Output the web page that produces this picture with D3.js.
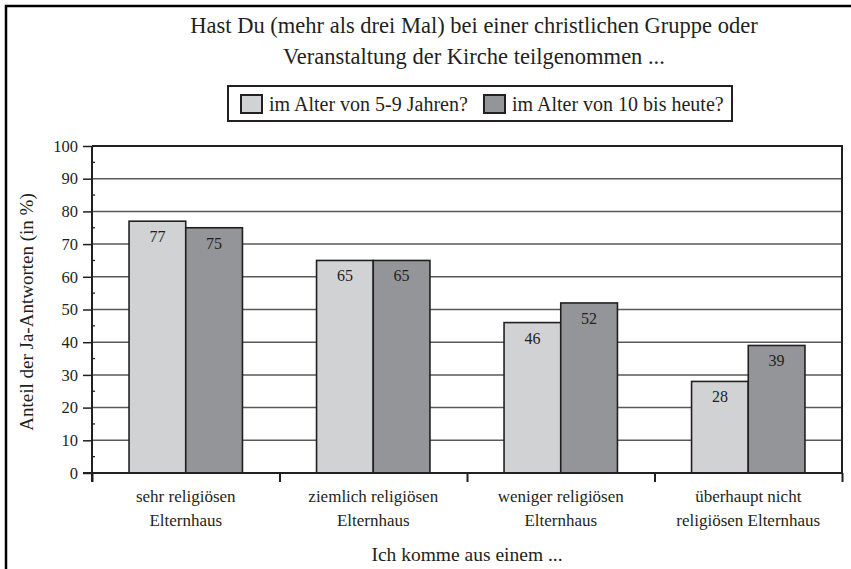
<!DOCTYPE html>
<html>
<head>
<meta charset="utf-8">
<script src="https://cdn.jsdelivr.net/npm/d3@7/dist/d3.min.js"></script>
<style>
  html, body { margin: 0; padding: 0; background: #fff; }
  svg { display: block; }
  text { font-family: "Liberation Serif", "DejaVu Serif", serif; fill: #231f20; }
</style>
</head>
<body>
<svg id="chart" width="851" height="569"></svg>
<script>
// ---- Data ----
const categories = [
  ["sehr religiösen", "Elternhaus"],
  ["ziemlich religiösen", "Elternhaus"],
  ["weniger religiösen", "Elternhaus"],
  ["überhaupt nicht", "religiösen Elternhaus"]
];
const seriesNames = ["im Alter von 5-9 Jahren?", "im Alter von 10 bis heute?"];
const series1 = [77, 65, 46, 28];
const series2 = [75, 65, 52, 39];
const yTicks = [0, 10, 20, 30, 40, 50, 60, 70, 80, 90, 100];
const titleLines = ["Hast Du (mehr als drei Mal) bei einer christlichen Gruppe oder",
                    "Veranstaltung der Kirche teilgenommen ..."];
const yTitle = "Anteil der Ja-Antworten (in %)";
const xTitle = "Ich komme aus einem ...";

// ---- Layout ----
const ink = "#231f20";
const colors = ["#d1d2d4", "#939598"];
const plot = { left: 92, right: 842, top: 146, bottom: 473 };

const svg = d3.select("#chart");

// outer frame (open to right/bottom edges)
svg.append("rect").attr("x", 6).attr("y", 6).attr("width", 860).attr("height", 580)
  .attr("fill", "none").attr("stroke", "#000").attr("stroke-width", 2.5);

const catIdx = categories.map((d, i) => i);
const x = d3.scaleBand().domain(catIdx).range([plot.left, plot.right]).padding(0);
const xs = d3.scaleBand().domain([0, 1])
  .range([x.bandwidth() * 0.1976, x.bandwidth() * 0.8024]).padding(0);
const y = d3.scaleLinear().domain([0, 100]).range([plot.bottom, plot.top]);

// gridlines
svg.append("g").selectAll("line").data(yTicks.filter(t => t > 0 && t < 100)).join("line")
  .attr("x1", plot.left).attr("x2", plot.right)
  .attr("y1", d => y(d)).attr("y2", d => y(d))
  .attr("stroke", "#58595b").attr("stroke-width", 1.5);
// top border & right border
svg.append("line").attr("x1", plot.left).attr("x2", plot.right + 1)
  .attr("y1", y(100)).attr("y2", y(100)).attr("stroke", ink).attr("stroke-width", 2);
svg.append("line").attr("x1", plot.right).attr("x2", plot.right)
  .attr("y1", y(100)).attr("y2", y(0)).attr("stroke", ink).attr("stroke-width", 2);

// bars
const rows = catIdx.map(i => ({ i, vals: [series1[i], series2[i]] }));
const groups = svg.append("g").selectAll("g").data(rows).join("g")
  .attr("transform", d => `translate(${x(d.i)},0)`);
groups.selectAll("rect").data(d => d.vals.map((v, s) => ({ v, s }))).join("rect")
  .attr("x", d => xs(d.s)).attr("width", xs.bandwidth())
  .attr("y", d => y(d.v)).attr("height", d => y(0) - y(d.v))
  .attr("fill", d => colors[d.s]).attr("stroke", ink).attr("stroke-width", 1.6);
groups.selectAll("text").data(d => d.vals.map((v, s) => ({ v, s }))).join("text")
  .attr("x", d => xs(d.s) + xs.bandwidth() / 2).attr("y", d => y(d.v) + 21)
  .attr("text-anchor", "middle").attr("font-size", 16).text(d => d.v);

// y axis
const yAxis = d3.axisLeft(y).tickValues(yTicks).tickSize(9).tickPadding(5);
const gy = svg.append("g").attr("transform", `translate(${plot.left},0)`).call(yAxis);
gy.select(".domain").remove();
gy.selectAll(".tick line").attr("stroke", ink).attr("stroke-width", 1.5);
gy.selectAll(".tick text").attr("font-size", 16.5).attr("font-family", "Liberation Serif").attr("fill", ink);
const minor = d3.range(5, 100, 10);
svg.append("g").selectAll("line").data(minor).join("line")
  .attr("x1", plot.left).attr("x2", plot.left + 3)
  .attr("y1", d => y(d)).attr("y2", d => y(d)).attr("stroke", ink).attr("stroke-width", 1.3);
svg.append("line").attr("x1", plot.left).attr("x2", plot.left)
  .attr("y1", y(100)).attr("y2", y(0) + 9).attr("stroke", ink).attr("stroke-width", 2);

// x axis
const xb = d3.scaleLinear().domain([0, categories.length]).range([plot.left, plot.right]);
const xAxis = d3.axisBottom(xb).tickValues(d3.range(0, categories.length + 1)).tickSize(9).tickFormat("");
const gx = svg.append("g").attr("transform", `translate(0,${plot.bottom})`).call(xAxis);
gx.select(".domain").remove();
gx.selectAll(".tick line").attr("stroke", ink).attr("stroke-width", 2);
svg.append("line").attr("x1", plot.left - 9).attr("x2", plot.right + 1)
  .attr("y1", plot.bottom).attr("y2", plot.bottom).attr("stroke", ink).attr("stroke-width", 2);

// category labels
const cl = svg.append("g").selectAll("text").data(catIdx).join("text")
  .attr("text-anchor", "middle").attr("font-size", 17)
  .attr("transform", d => `translate(${x(d) + x.bandwidth() / 2},502)`);
cl.selectAll("tspan").data(d => categories[d]).join("tspan")
  .attr("x", 0).attr("dy", (d, i) => i === 0 ? 0 : 24).text(d => d);

// axis titles
svg.append("text").attr("x", 467).attr("y", 561)
  .attr("text-anchor", "middle").attr("font-size", 19.5).text(xTitle);
svg.append("text").attr("transform", "translate(33,312) rotate(-90)")
  .attr("text-anchor", "middle").attr("font-size", 19).text(yTitle);

// title
svg.append("g").selectAll("text").data(titleLines).join("text")
  .attr("x", 474).attr("y", (d, i) => 33 + i * 31)
  .attr("text-anchor", "middle").attr("font-size", 22.5).text(d => d);

// legend
const lg = svg.append("g");
lg.append("rect").attr("x", 228).attr("y", 86).attr("width", 504).attr("height", 35)
  .attr("fill", "#fff").attr("stroke", ink).attr("stroke-width", 2);
const legX = [241, 484];
seriesNames.forEach((n, s) => {
  lg.append("rect").attr("x", legX[s]).attr("y", 95).attr("width", 21).attr("height", 18)
    .attr("fill", colors[s]).attr("stroke", ink).attr("stroke-width", 2);
  lg.append("text").attr("x", legX[s] + 28).attr("y", 110.5).attr("font-size", 20).text(n);
});
</script>
</body>
</html>
